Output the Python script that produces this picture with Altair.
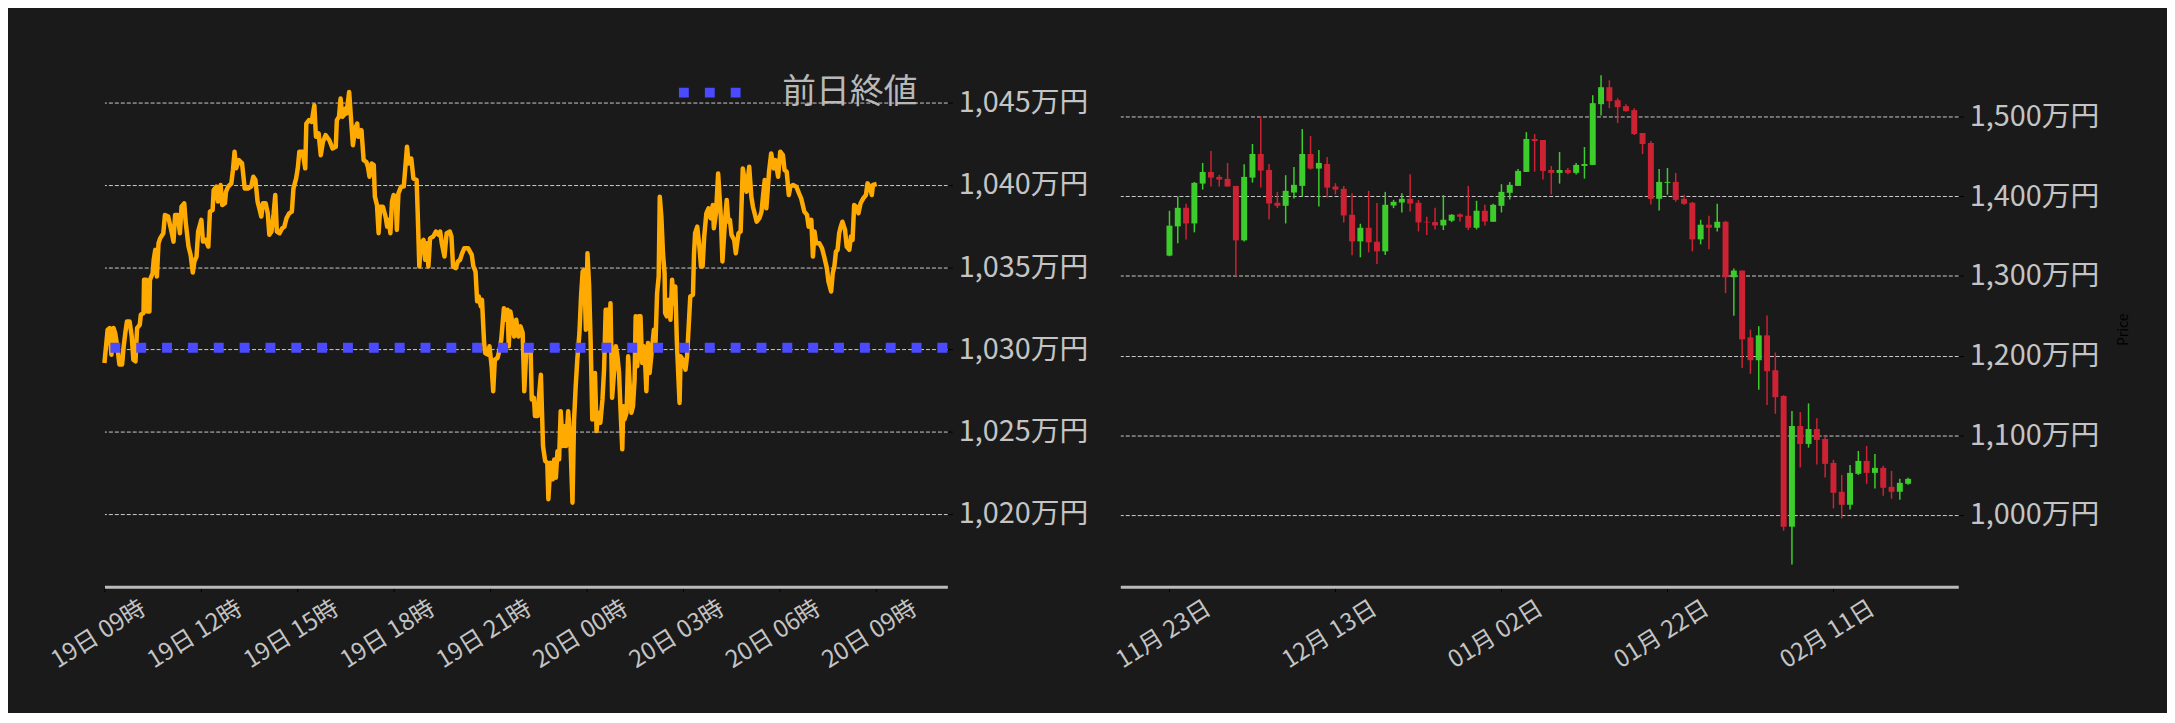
import altair as alt
import pandas as pd

FONT = "Noto Sans CJK JP"
BG = "#1a1a1a"
ORANGE = "#FFAA00"
BLUE = "#4a4aff"
GREEN = "#3ccc2c"
RED = "#cc2233"
LABEL = "#c4c4c4"

# ---------------- intraday line (minutes after 2026-02-19 09:00, price in 万円) ----------------
min_a = [0, 6, 10, 13, 17, 20, 24, 28, 33, 36,
         39, 42, 47, 51, 54, 58, 61, 66, 68, 73,
         74, 78, 80, 84, 85, 90, 92, 95, 98, 101,
         104, 110, 113, 119, 126, 129, 132, 137, 141, 144,
         149, 152, 157, 161, 165, 168, 172, 175, 181, 184,
         189, 194, 197, 202, 204, 209, 212, 217, 220, 225,
         227, 231, 237, 240, 243, 246, 251, 257, 262, 268,
         274, 278, 282, 286, 290, 293, 296, 301, 305, 308,
         312, 316, 319, 322, 327, 332, 336, 340, 345, 350,
         353, 358, 361, 364, 370, 375, 377, 382, 387, 392,
         395, 400, 404, 408, 413, 420, 426, 432, 434, 438,
         441, 444, 447, 450, 452, 457, 460, 464, 468, 472,
         474]
price_a = [1029.18, 1031.20, 1031.30, 1029.68, 1031.30, 1031.00, 1030.19, 1029.08, 1029.08, 1030.19,
           1031.00, 1031.70, 1031.70, 1030.79, 1029.38, 1029.28, 1031.30, 1031.50, 1032.11, 1032.21,
           1034.23, 1034.23, 1032.31, 1032.31, 1034.23, 1034.63, 1035.44, 1036.05, 1034.43, 1036.45,
           1036.75, 1037.06, 1038.17, 1038.07, 1037.06, 1036.55, 1038.17, 1038.17, 1037.06, 1038.67,
           1038.88, 1037.66, 1036.25, 1035.74, 1034.67, 1035.34, 1035.64, 1037.16, 1037.87, 1036.55,
           1036.65, 1036.25, 1038.37, 1038.47, 1039.68, 1039.89, 1038.98, 1039.99, 1038.77, 1038.88,
           1039.58, 1039.89, 1040.09, 1040.90, 1042.01, 1041.00, 1041.50, 1041.30, 1039.78, 1039.78,
           1039.89, 1040.49, 1040.29, 1038.98, 1038.47, 1038.07, 1038.88, 1038.88, 1038.27, 1036.96,
           1037.16, 1038.27, 1039.38, 1037.16, 1037.06, 1037.36, 1037.46, 1037.97, 1038.27, 1038.37,
           1039.78, 1040.39, 1041.00, 1042.01, 1042.01, 1041.00, 1043.72, 1043.93, 1043.82, 1044.83,
           1042.92, 1043.12, 1041.80, 1042.61, 1043.02, 1042.71, 1042.21, 1042.31, 1043.93, 1044.13,
           1045.24, 1044.13, 1044.23, 1044.63, 1044.33, 1045.64, 1044.23, 1042.41, 1043.42, 1043.72,
           1042.92]

min_b = [480, 484, 489, 492, 495, 499, 503, 505, 509, 512,
         515, 520, 525, 528, 531, 534, 537, 540, 544, 546,
         549, 554, 559, 562, 565, 568, 573, 577, 583, 585,
         588, 591, 596, 599, 602, 605, 608, 614, 619, 624,
         627, 630, 635, 639, 645, 648, 651, 656, 660, 664,
         668, 672, 679, 686, 689, 693, 696, 699, 703, 705,
         709, 711, 716, 719, 723, 726, 729, 734, 738, 741,
         746, 750, 753, 755, 758, 761, 765, 769, 773, 777,
         781, 784, 788, 792, 796, 798, 802, 804, 809, 812,
         815, 819, 823, 827, 829, 833, 837, 840, 843, 846,
         849, 852, 856, 859, 862, 866, 870, 874, 877, 880,
         883, 887, 890, 893, 896, 899, 902, 905, 908, 911,
         916, 919, 922, 926, 930, 933, 936, 940, 942, 945,
         948, 952, 955]
price_b = [1043.32, 1041.50, 1041.40, 1041.10, 1040.49, 1041.30, 1041.20, 1039.28, 1038.77, 1037.06,
           1038.67, 1038.67, 1038.07, 1037.46, 1037.87, 1037.06, 1038.98, 1039.38, 1039.28, 1037.26,
           1039.48, 1039.89, 1039.89, 1041.10, 1042.31, 1041.30, 1041.60, 1040.39, 1040.29, 1038.27,
           1035.04, 1036.45, 1036.65, 1035.44, 1036.45, 1035.04, 1036.75, 1036.86, 1037.16, 1036.96,
           1037.16, 1036.45, 1035.64, 1037.06, 1037.16, 1036.86, 1035.04, 1034.94, 1035.34, 1035.44,
           1035.84, 1036.15, 1036.15, 1035.74, 1035.04, 1034.73, 1032.92, 1033.22, 1032.61, 1033.02,
           1030.39, 1029.78, 1029.68, 1030.19, 1028.98, 1027.46, 1029.38, 1029.48, 1029.99, 1030.59,
           1032.51, 1031.80, 1032.41, 1030.19, 1032.31, 1031.80, 1030.79, 1031.80, 1030.79, 1031.40,
           1031.00, 1027.46, 1030.09, 1029.99, 1029.78, 1026.96, 1027.06, 1025.95, 1025.95, 1027.36,
           1028.47, 1024.13, 1023.22, 1023.12, 1020.90, 1023.12, 1022.11, 1023.32, 1022.21, 1023.82,
           1023.32, 1026.25, 1024.13, 1025.34, 1024.13, 1026.25, 1024.53, 1020.69, 1025.74, 1027.76,
           1029.38, 1031.00, 1033.22, 1034.73, 1034.83, 1031.20, 1035.84, 1033.93, 1030.39, 1025.74,
           1028.57, 1025.04, 1026.15, 1025.54, 1026.96, 1028.77, 1032.41, 1032.41, 1030.29, 1032.81,
           1027.06, 1028.77, 1030.19]

min_c = [958, 961, 964, 967, 969, 971, 975, 978, 981, 984,
         987, 990, 992, 995, 998, 1001, 1004, 1007, 1010, 1012,
         1015, 1018, 1023, 1026, 1029, 1032, 1035, 1037, 1040, 1043,
         1046, 1047, 1050, 1054, 1057, 1060, 1063, 1066, 1069, 1072,
         1074, 1076, 1080, 1085, 1088, 1091, 1094, 1099, 1101, 1103,
         1107, 1111, 1114, 1117, 1120, 1124, 1128, 1132, 1136, 1138,
         1142, 1146, 1151, 1154, 1159, 1162, 1165, 1168, 1171, 1176,
         1179, 1184, 1188, 1192, 1196, 1199, 1204, 1208, 1211, 1218,
         1223, 1227, 1230, 1233, 1236, 1241, 1245, 1250, 1253, 1258,
         1262, 1267, 1270, 1274, 1278, 1281, 1286, 1292, 1297, 1301,
         1304, 1307, 1312, 1315, 1320, 1323, 1326, 1329, 1335, 1340,
         1344, 1349, 1352, 1357, 1360, 1363, 1366, 1369, 1372, 1375,
         1378, 1383, 1386, 1391, 1394, 1397, 1400, 1404, 1408, 1412,
         1417, 1422, 1425, 1429, 1433, 1435, 1442]
price_c = [1029.58, 1028.57, 1026.15, 1023.93, 1026.55, 1025.74, 1026.15, 1029.58, 1027.76, 1026.15,
           1026.55, 1028.17, 1032.01, 1028.98, 1032.01, 1032.01, 1029.18, 1030.19, 1028.98, 1027.46,
           1030.39, 1028.57, 1030.19, 1031.20, 1030.39, 1033.42, 1034.43, 1039.28, 1038.07, 1035.84,
           1034.63, 1032.21, 1032.01, 1033.02, 1031.80, 1034.23, 1032.81, 1033.82, 1030.39, 1028.17,
           1026.75, 1029.58, 1029.38, 1028.77, 1029.58, 1031.40, 1033.22, 1033.32, 1035.84, 1037.06,
           1037.46, 1036.25, 1035.04, 1035.04, 1036.86, 1038.27, 1038.57, 1037.97, 1038.77, 1037.36,
           1038.27, 1040.69, 1038.07, 1035.34, 1037.87, 1039.08, 1037.76, 1037.87, 1036.96, 1036.65,
           1035.84, 1037.06, 1037.16, 1041.00, 1040.19, 1039.58, 1041.10, 1039.28, 1038.67, 1037.76,
           1037.97, 1038.37, 1039.38, 1040.29, 1038.57, 1040.79, 1041.91, 1041.00, 1041.50, 1040.49,
           1042.01, 1041.80, 1040.90, 1040.79, 1039.38, 1039.89, 1039.99, 1039.89, 1039.48, 1039.18,
           1038.77, 1038.37, 1038.17, 1037.46, 1037.87, 1035.64, 1037.16, 1036.45, 1036.45, 1036.15,
           1035.64, 1034.94, 1034.13, 1033.52, 1034.63, 1035.04, 1035.95, 1036.05, 1037.06, 1037.46,
           1037.76, 1037.26, 1036.25, 1036.05, 1036.86, 1036.65, 1038.77, 1038.67, 1038.27, 1038.88,
           1039.18, 1039.38, 1040.09, 1039.89, 1039.38, 1039.99, 1040.05]

prev_close = 1030.1
legend_label = "前日終値"

left_ticks_y = [1020, 1025, 1030, 1035, 1040, 1045]
right_ticks_y = [1000, 1100, 1200, 1300, 1400, 1500]

# ---------------- daily candles from 2025-11-23 (万円) ----------------
first_day = "2025-11-23"
opens = [1325.4, 1362.1, 1385.4, 1365.8, 1415.8, 1430.4, 1424.2, 1421.7, 1412.9, 1344.6,
         1423.3, 1452.9, 1432.9, 1391.7, 1387.9, 1404.6, 1412.9, 1452.9, 1434.6, 1440.4,
         1412.1, 1409.2, 1376.7, 1343.3, 1360.4, 1342.9, 1330.8, 1388.3, 1392.1, 1396.7,
         1391.7, 1367.9, 1367.5, 1363.3, 1369.2, 1377.1, 1375.4, 1360.4, 1381.7, 1367.9,
         1387.9, 1404.2, 1412.9, 1430.4, 1471.7, 1470.4, 1432.9, 1429.2, 1432.9, 1429.2,
         1437.9, 1439.2, 1515.4, 1536.7, 1520.4, 1512.9, 1507.9, 1479.2, 1466.7, 1396.7,
         1416.7, 1417.9, 1396.7, 1391.7, 1345.8, 1364.2, 1360.4, 1367.9, 1298.3, 1306.7,
         1222.9, 1194.2, 1225.4, 1181.7, 1149.2, 985.4, 1111.7, 1089.2, 1107.9, 1095.4,
         1065.4, 1029.2, 1012.9, 1051.7, 1067.9, 1052.9, 1059.2, 1035.4, 1029.2, 1039.2]
highs = [1381.7, 1399.6, 1390.4, 1417.9, 1441.7, 1456.7, 1426.7, 1441.7, 1412.9, 1440.0,
         1465.4, 1500.0, 1440.4, 1405.4, 1426.3, 1436.7, 1484.2, 1475.4, 1457.9, 1449.2,
         1416.3, 1412.9, 1403.8, 1365.4, 1406.7, 1391.3, 1405.4, 1395.4, 1403.8, 1427.5,
         1395.4, 1374.2, 1385.4, 1401.3, 1377.5, 1378.3, 1412.9, 1394.2, 1389.2, 1390.4,
         1415.0, 1417.9, 1434.2, 1480.4, 1477.9, 1470.4, 1437.9, 1455.4, 1435.4, 1441.7,
         1461.7, 1526.7, 1551.7, 1545.4, 1522.9, 1515.4, 1510.4, 1479.2, 1469.2, 1434.2,
         1435.4, 1429.2, 1401.7, 1392.9, 1370.4, 1375.4, 1390.4, 1369.2, 1309.2, 1306.7,
         1232.5, 1236.7, 1250.4, 1203.8, 1150.4, 1130.4, 1129.2, 1140.0, 1121.3, 1099.2,
         1069.2, 1050.4, 1062.9, 1080.4, 1086.7, 1076.7, 1061.7, 1055.4, 1045.4, 1046.7]
lows = [1324.6, 1340.8, 1345.8, 1354.6, 1408.3, 1412.1, 1412.1, 1412.1, 1300.0, 1343.3,
        1417.1, 1410.8, 1370.8, 1385.0, 1365.8, 1397.1, 1399.6, 1433.3, 1387.1, 1398.3,
        1402.1, 1367.1, 1325.8, 1323.3, 1329.6, 1315.0, 1326.3, 1385.0, 1379.6, 1380.8,
        1355.8, 1351.3, 1358.3, 1357.5, 1367.5, 1368.3, 1357.5, 1358.3, 1363.3, 1367.9,
        1379.6, 1395.8, 1412.9, 1430.4, 1430.8, 1420.8, 1402.1, 1415.8, 1427.5, 1427.1,
        1422.1, 1439.2, 1501.3, 1510.4, 1491.7, 1505.8, 1476.7, 1452.9, 1389.6, 1382.1,
        1401.7, 1392.9, 1389.2, 1330.8, 1339.6, 1333.3, 1355.8, 1278.3, 1250.0, 1184.6,
        1177.1, 1157.1, 1137.9, 1127.1, 980.4, 937.9, 1059.6, 1084.6, 1063.3, 1047.1,
        1008.3, 995.8, 1007.1, 1050.4, 1039.2, 1033.3, 1024.2, 1020.4, 1019.2, 1037.9]
closes = [1363.0, 1385.4, 1365.8, 1416.7, 1430.4, 1423.3, 1420.8, 1412.1, 1344.6, 1424.2,
          1452.9, 1432.1, 1390.8, 1387.9, 1406.7, 1414.2, 1452.9, 1434.6, 1441.7, 1410.8,
          1408.3, 1375.8, 1343.3, 1360.4, 1342.1, 1330.8, 1389.2, 1392.9, 1396.7, 1390.8,
          1367.1, 1367.1, 1363.3, 1370.4, 1376.7, 1374.2, 1360.4, 1381.7, 1368.3, 1389.2,
          1405.4, 1414.2, 1431.7, 1471.7, 1469.2, 1431.7, 1429.2, 1432.9, 1429.2, 1439.2,
          1440.4, 1516.7, 1536.7, 1519.2, 1511.7, 1506.7, 1477.9, 1465.4, 1396.7, 1417.9,
          1417.9, 1395.4, 1390.4, 1345.8, 1364.2, 1360.4, 1367.9, 1298.3, 1306.7, 1220.4,
          1194.2, 1225.4, 1180.4, 1147.9, 985.4, 1111.7, 1089.2, 1107.9, 1094.2, 1064.2,
          1027.9, 1012.9, 1052.9, 1067.9, 1052.9, 1059.2, 1034.2, 1029.2, 1040.4, 1045.4]

# ---------------- tables ----------------
start = pd.Timestamp("2026-02-19 09:00")
minutes = min_a + min_b + min_c
prices = price_a + price_b + price_c
line_df = pd.DataFrame({
    "time": [(start + pd.Timedelta(minutes=m)).strftime("%Y-%m-%dT%H:%M:%S") for m in minutes],
    "price": prices,
})
prev_df = pd.DataFrame({"price": [prev_close], "series": [legend_label]})

days = pd.date_range(first_day, periods=len(opens), freq="D")
candle_df = pd.DataFrame({
    "date": [d.strftime("%Y-%m-%dT00:00:00") for d in days],
    "open": opens, "high": highs, "low": lows, "close": closes,
})


def dt(y, mo, d, h=0, mi=0):
    return alt.DateTime(year=y, month=mo, date=d, hours=h, minutes=mi)


left_x_ticks = [dt(2026, 2, 19, h) for h in (9, 12, 15, 18, 21)] + \
               [dt(2026, 2, 20, h) for h in (0, 3, 6, 9)]
right_x_ticks = [dt(2025, 11, 23), dt(2025, 12, 13), dt(2026, 1, 2), dt(2026, 1, 22), dt(2026, 2, 11)]

# legend glyph: three squares, like a dotted thick line sample
DOTS = "M-1,-0.16H-0.68V0.16H-1Z M-0.16,-0.16H0.16V0.16H-0.16Z M0.68,-0.16H1V0.16H0.68Z"

# ---------------- left: intraday ----------------
x_left = alt.X("time:T",
               scale=alt.Scale(domain=[dt(2026, 2, 19, 9), dt(2026, 2, 20, 11, 14)], nice=False),
               axis=alt.Axis(title=None, values=left_x_ticks,
                             labelExpr="timeFormat(datum.value, '%d日 %H時')"))
y_left = alt.Y("price:Q",
               scale=alt.Scale(domain=[1015.59, 1046.87], nice=False, zero=False),
               axis=alt.Axis(orient="right", title=None, values=left_ticks_y,
                             labelExpr="format(datum.value, ',') + '万円'"))

line = alt.Chart(line_df).mark_line(color=ORANGE, strokeWidth=4.5, strokeJoin="round").encode(
    x=x_left, y=y_left)

rule = alt.Chart(prev_df).mark_rule(strokeWidth=10, strokeDash=[10, 16], strokeCap="butt").encode(
    y=alt.Y("price:Q"),
    color=alt.Color("series:N",
                    scale=alt.Scale(domain=[legend_label], range=[BLUE]),
                    legend=alt.Legend(title=None, orient="none", legendX=578, legendY=-10,
                                      symbolType=DOTS, symbolSize=3844,
                                      symbolFillColor=BLUE, symbolStrokeWidth=0,
                                      symbolOpacity=1,
                                      labelFontSize=34, labelColor="#b8b8b8", labelFont=FONT,
                                      labelOffset=42, padding=0)))

left = alt.layer(line, rule).properties(width=848, height=518)

# ---------------- right: daily candles ----------------
x_right = alt.X("date:T",
                scale=alt.Scale(domain=[dt(2025, 11, 17, 16, 12), dt(2026, 2, 25, 10, 33)], nice=False),
                axis=alt.Axis(title=None, values=right_x_ticks,
                              labelExpr="timeFormat(datum.value, '%m月 %d日')"))
y_right = alt.Y("low:Q",
                scale=alt.Scale(domain=[910.2, 1556.1], nice=False, zero=False),
                axis=alt.Axis(orient="right", title="Price", values=right_ticks_y,
                              labelExpr="format(datum.value, ',') + '万円'",
                              titleColor="#000000", titleFontSize=14, titleFont=FONT,
                              titleFontWeight="normal", titleAngle=270, titlePadding=32))

cbase = alt.Chart(candle_df).encode(
    x=x_right,
    color=alt.condition("datum.close >= datum.open", alt.value(GREEN), alt.value(RED)))
wick = cbase.mark_rule(strokeWidth=1.5).encode(y=y_right, y2="high:Q")
body = cbase.mark_bar(size=6).encode(y=alt.Y("open:Q"), y2="close:Q")
right = alt.layer(wick, body).properties(width=843, height=518)

chart = alt.hconcat(left, right, spacing=23).properties(
    padding={"left": 39, "top": 52, "right": 36, "bottom": 38}
).configure(background=BG, font=FONT).configure_view(stroke=None).configure_axis(
    labelFont=FONT, labelColor=LABEL, tickColor="#000000", tickSize=5,
    labelFlush=False, labelOverlap=False,
).configure_axisX(
    grid=False, domain=True, domainColor="#bbbbbb", domainWidth=3,
    labelAngle=-32, labelAlign="center", labelBaseline="middle",
    labelPadding=43, labelOffset=-6, labelFontSize=24,
).configure_axisY(
    grid=True, gridColor="#cccccc", gridDash=[4, 2], gridWidth=1,
    domain=False, labelFontSize=29, labelPadding=6,
)

chart.save("out.html", embed_options={"renderer": "svg", "actions": False})
